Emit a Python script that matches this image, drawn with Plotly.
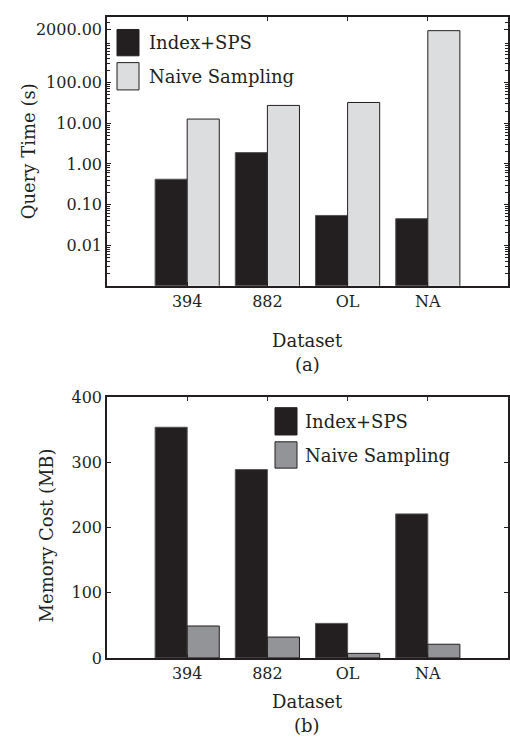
import plotly.graph_objects as go

datasets = ["394", "882", "OL", "NA"]
series_names = ["Index+SPS", "Naive Sampling"]
query_index_sps = [0.42, 1.9, 0.054, 0.045]
query_naive = [12.7, 27.5, 32.5, 1900]
memory_index_sps = [354, 289, 53, 221]
memory_naive = [49, 32, 7, 21]
query_tickvals = [0.01, 0.1, 1, 10, 100, 2000]
query_ticktext = ["0.01", "0.10", "1.00", "10.00", "100.00", "2000.00"]
memory_tickvals = [0, 100, 200, 300, 400]
query_minor_ticks = [m * 10.0 ** e for e in range(-3, 4) for m in range(2, 10)]

W, H = 510, 754
FONT = "DejaVu Serif, serif"
DARK = "#231f20"
C_BLACK = "#231f20"
C_LIGHT = "#dcdddf"
C_MID = "#929497"
FS = 16
LFS = 18

def px(x):
    return x / W

def py(y):
    return 1 - y / H

fig = go.Figure()
fig.add_trace(go.Bar(x=datasets, y=query_index_sps, name=series_names[0],
                     marker=dict(color=C_BLACK, line=dict(color="#555", width=1)),
                     xaxis="x", yaxis="y"))
fig.add_trace(go.Bar(x=datasets, y=query_naive, name=series_names[1],
                     marker=dict(color=C_LIGHT, line=dict(color=DARK, width=1)),
                     xaxis="x", yaxis="y"))
fig.add_trace(go.Bar(x=datasets, y=memory_index_sps, name=series_names[0],
                     marker=dict(color=C_BLACK, line=dict(color="#555", width=1)),
                     xaxis="x2", yaxis="y2"))
fig.add_trace(go.Bar(x=datasets, y=memory_naive, name=series_names[1],
                     marker=dict(color=C_MID, line=dict(color=DARK, width=1)),
                     xaxis="x2", yaxis="y2"))

axis_common = dict(showline=True, linecolor=DARK, linewidth=1.5, mirror="ticks",
                   ticks="inside", ticklen=4, tickcolor=DARK, showgrid=False,
                   zeroline=False, tickfont=dict(family=FONT, size=FS, color=DARK))

xdom = [px(107), px(508)]
fig.update_layout(
    width=W, height=H, margin=dict(l=0, r=0, t=0, b=0),
    paper_bgcolor="white", plot_bgcolor="white",
    barmode="group", bargap=0.2, bargroupgap=0, showlegend=False,
    xaxis=dict(domain=xdom, anchor="y", type="category", range=[-1, 4], **axis_common),
    yaxis=dict(domain=[py(284), py(8)], anchor="x", type="log", range=[-3, 3.62],
               tickmode="array", tickvals=query_tickvals, ticktext=query_ticktext,
               minor=dict(ticks="inside", ticklen=3, tickcolor=DARK, tickwidth=1,
                          tickmode="array", tickvals=query_minor_ticks, showgrid=False),
               **axis_common),
    xaxis2=dict(domain=xdom, anchor="y2", type="category", range=[-1, 4], **axis_common),
    yaxis2=dict(domain=[py(665.7), py(398.3)], anchor="x2", range=[0, 400],
                tickvals=memory_tickvals, **axis_common),
)

ann = []
def text(x, y, s, angle=0, xanchor="center", size=LFS):
    ann.append(dict(x=px(x), y=py(y), xref="paper", yref="paper", text=s, showarrow=False,
                    textangle=angle, xanchor=xanchor, yanchor="middle",
                    font=dict(family=FONT, size=size, color=DARK)))

text(28, 146, "Query Time (s)", angle=-90)
text(46, 540, "Memory Cost (MB)", angle=-90)
text(307, 340, "Dataset")
text(307, 365, "(a)")
text(307, 710, "Dataset")
text(307, 735, "(b)")

shapes = []
def swatch(x0, y0, x1, y1, color):
    shapes.append(dict(type="rect", xref="paper", yref="paper", x0=px(x0), x1=px(x1),
                       y0=py(y1), y1=py(y0), fillcolor=color, line=dict(color=DARK, width=1)))

# legend (a)
swatch(117, 21, 139, 48, C_BLACK)
swatch(117, 55, 139, 83, C_LIGHT)
text(147, 34, series_names[0], xanchor="left")
text(147, 69, series_names[1], xanchor="left")
# legend (b)
swatch(275, 409, 297, 437, C_BLACK)
swatch(275, 444, 297, 471, C_MID)
text(303, 423, series_names[0], xanchor="left")
text(303, 458, series_names[1], xanchor="left")

fig.update_layout(annotations=ann, shapes=shapes)
fig.write_html("out.html")
